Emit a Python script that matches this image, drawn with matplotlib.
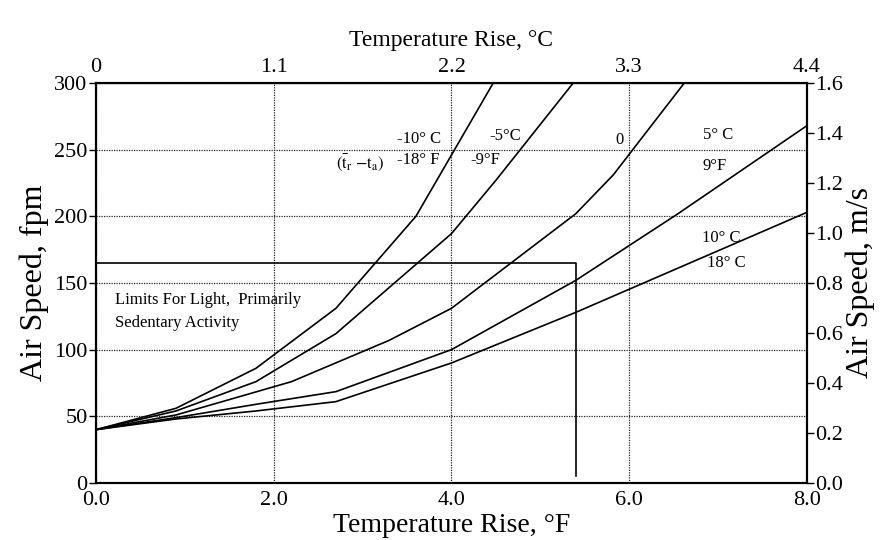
import matplotlib
matplotlib.use('Agg')
import matplotlib.pyplot as plt
import numpy as np

plt.rcParams['font.family'] = ['Liberation Serif', 'DejaVu Serif']
plt.rcParams['mathtext.fontset'] = 'stix'

# Curves: temperature rise (F) vs air speed (fpm)
c1_x = [0, 0.9, 1.8, 2.7, 3.6, 4.47]
c1_y = [40, 56, 86, 131, 200, 300]
c2_x = [0, 0.9, 1.8, 2.7, 4.0, 4.5, 5.37]
c2_y = [40, 54, 76, 112, 187, 227, 300]
c3_x = [0, 0.9, 2.2, 3.3, 4.0, 5.4, 5.82, 6.62]
c3_y = [40, 51, 76, 107, 131, 202, 231, 300]
c4_x = [0, 0.9, 1.8, 2.7, 4.0, 5.4, 6.55, 8.0]
c4_y = [40, 49, 59, 68.5, 100, 152, 202, 268]
c5_x = [0, 0.9, 1.8, 2.7, 4.0, 5.4, 8.0]
c5_y = [40, 48, 54, 61, 90, 128, 203]
limit_x = [0, 5.4, 5.4]
limit_y = [165, 165, 5]

x_ticks = [0, 2, 4, 6, 8]
x_labels = ['0.0', '2.0', '4.0', '6.0', '8.0']
c_ticks = [0, 1.1, 2.2, 3.3, 4.4]
c_labels = ['0', '1.1', '2.2', '3.3', '4.4']
y_ticks = [0, 50, 100, 150, 200, 250, 300]
ms_ticks = [0.0, 0.2, 0.4, 0.6, 0.8, 1.0, 1.2, 1.4, 1.6]

fig = plt.figure(figsize=(8.82, 5.4), dpi=100)
ax = fig.add_axes([0.1088, 0.1056, 0.8061, 0.7407])

for xs, ys in [(c1_x, c1_y), (c2_x, c2_y), (c3_x, c3_y), (c4_x, c4_y), (c5_x, c5_y)]:
    ax.plot(xs, ys, color='black', lw=1.2, zorder=3, clip_on=True)
ax.plot(limit_x, limit_y, color='black', lw=1.2, zorder=3)

ax.set_xlim(0, 8)
ax.set_ylim(0, 300)
ax.set_xticks(x_ticks, x_labels)
ax.set_yticks(y_ticks, [str(v) for v in y_ticks])
ax.grid(True, color='#222222', lw=0.9, linestyle=(0, (1, 1)), zorder=1)
ax.tick_params(axis='x', length=0, pad=6, labelsize=16)
ax.tick_params(axis='y', length=5, width=1, pad=1, labelsize=16, direction='out')
for s in ax.spines.values():
    s.set_linewidth(1.5)
ax.set_xlabel('Temperature Rise, °F', fontsize=20, labelpad=2)
ax.set_ylabel('Air Speed, fpm', fontsize=23, labelpad=4)

ax2 = ax.twinx()
ax2.set_ylim(0, 1.6)
ax2.set_yticks(ms_ticks, [f'{v:.1f}' for v in ms_ticks])
ax2.tick_params(axis='y', length=5, width=1, pad=1, labelsize=16, direction='out')
ax2.set_ylabel('Air Speed, m/s', fontsize=23, labelpad=2)
for s in ax2.spines.values():
    s.set_linewidth(1.5)

secax = ax.secondary_xaxis('top', functions=(lambda f: f * 0.55, lambda c: c / 0.55))
secax.set_xticks(c_ticks, c_labels)
secax.tick_params(axis='x', length=0, pad=4, labelsize=16)
secax.set_xlabel('Temperature Rise, °C', fontsize=17, labelpad=9)

fs = 12
ax.text(3.64, 258, '-10° C', ha='center', va='center', fontsize=fs)
ax.text(3.63, 242, '-18° F', ha='center', va='center', fontsize=fs)
ax.text(2.97, 240, r'$(\bar{\mathrm{t}}_\mathrm{r}\ \mathrm{-t}_\mathrm{a})$',
        ha='center', va='center', fontsize=fs)
ax.text(4.6, 260, '-5°C', ha='center', va='center', fontsize=fs)
ax.text(4.38, 242, '-9°F', ha='center', va='center', fontsize=fs)
ax.text(5.89, 257, '0', ha='center', va='center', fontsize=fs)
ax.text(7.0, 261, '5° C', ha='center', va='center', fontsize=fs)
ax.text(6.96, 238, '9°F', ha='center', va='center', fontsize=fs)
ax.text(7.04, 184, '10° C', ha='center', va='center', fontsize=fs)
ax.text(7.09, 165, '18° C', ha='center', va='center', fontsize=fs)
ax.text(0.21, 137, 'Limits For Light,  Primarily', ha='left', va='center', fontsize=fs)
ax.text(0.21, 120, 'Sedentary Activity', ha='left', va='center', fontsize=fs)

fig.savefig('out.png', dpi=100)
